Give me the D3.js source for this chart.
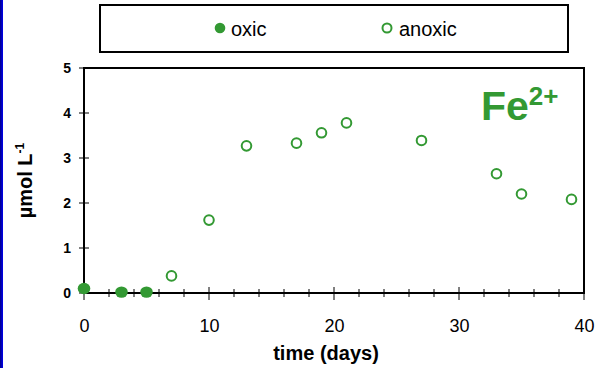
<!DOCTYPE html>
<html>
<head>
<meta charset="utf-8">
<script src="https://cdn.jsdelivr.net/npm/d3@7"></script>
<style>
  body { margin: 0; background: #fff; }
  svg { display: block; font-family: "Liberation Sans", Arial, sans-serif; }
</style>
</head>
<body>
<svg id="chart"></svg>
<script>

// data
var oxicDays = [0, 3, 5];
var oxicFe = [0.1, 0.02, 0.02];

var anoxicDays = [7, 10, 13, 17, 19, 21, 27, 33, 35, 39];
var anoxicFe = [0.38, 1.62, 3.27, 3.33, 3.56, 3.78, 3.39, 2.65, 2.2, 2.08];

var xTickLabels = [0, 10, 20, 30, 40];
var yTickLabels = [0, 1, 2, 3, 4, 5];
var seriesNames = ["oxic", "anoxic"];

var green = "#339933";

var width = 597,
    height = 368,
    margin = { top: 68, right: 13, bottom: 75, left: 84 };

var svg = d3.select("#chart")
        .attr("width", width)
        .attr("height", height);

// blue strip on the left edge
var grad = svg.append("defs")
        .append("linearGradient")
        .attr("id", "strip")
        .attr("x1", "0%").attr("x2", "100%");
grad.append("stop").attr("offset", "0%").attr("stop-color", "#000088");
grad.append("stop").attr("offset", "100%").attr("stop-color", "#0000ee");

svg.append("rect")
    .attr("x", 0)
    .attr("y", 0)
    .attr("width", 3)
    .attr("height", height)
    .style("fill", "url(#strip)");

var x = d3.scaleLinear()
        .domain([0, 40])
        .range([margin.left, width - margin.right]);

var y = d3.scaleLinear()
        .domain([0, 5])
        .range([height - margin.bottom, margin.top]);

// plot frame
svg.append("rect")
    .attr("x", x(0))
    .attr("y", y(5))
    .attr("width", x(40) - x(0))
    .attr("height", y(0) - y(5))
    .style("fill", "none")
    .style("stroke", "#000")
    .style("stroke-width", 2);

// x axis: labels via d3 axis, crossing ticks drawn by hand
var xAxis = d3.axisBottom(x)
        .tickValues(xTickLabels)
        .tickSize(0)
        .tickPadding(26)
        .tickFormat(d3.format("d"));

var gx = svg.append("g")
    .attr("transform", "translate(0," + y(0) + ")")
    .call(xAxis);
gx.select(".domain").remove();
gx.selectAll("text")
    .style("font-size", "18px")
    .style("fill", "#000");

svg.append("g")
    .selectAll("line")
    .data(d3.range(0, 41, 2))
    .join("line")
    .attr("x1", function (d) { return x(d); })
    .attr("x2", function (d) { return x(d); })
    .attr("y1", function (d) { return y(0) - (d % 10 === 0 ? 6 : 4); })
    .attr("y2", function (d) { return y(0) + (d % 10 === 0 ? 7 : 4); })
    .style("stroke", "#000")
    .style("stroke-width", 1);

// y axis
var yAxis = d3.axisLeft(y)
        .tickValues(yTickLabels)
        .tickSize(0)
        .tickPadding(13)
        .tickFormat(d3.format("d"));

var gy = svg.append("g")
    .attr("transform", "translate(" + x(0) + ",0)")
    .call(yAxis);
gy.select(".domain").remove();
gy.selectAll("text")
    .style("font-size", "14px")
    .style("font-weight", "bold")
    .style("fill", "#000");

svg.append("g")
    .selectAll("line")
    .data(yTickLabels)
    .join("line")
    .attr("x1", x(0) - 5)
    .attr("x2", x(0) + 5)
    .attr("y1", function (d) { return y(d); })
    .attr("y2", function (d) { return y(d); })
    .style("stroke", "#000")
    .style("stroke-width", 1);

// redraw the two axis lines on top of ticks
svg.append("line")
    .attr("x1", x(0)).attr("x2", x(40))
    .attr("y1", y(0)).attr("y2", y(0))
    .style("stroke", "#000").style("stroke-width", 2);
svg.append("line")
    .attr("x1", x(0)).attr("x2", x(0))
    .attr("y1", y(0)).attr("y2", y(5))
    .style("stroke", "#000").style("stroke-width", 2);

// axis titles
svg.append("text")
    .attr("x", 326)
    .attr("y", 360)
    .attr("text-anchor", "middle")
    .style("font-size", "20px")
    .style("font-weight", "bold")
    .text("time (days)");

var yTitle = svg.append("text")
    .attr("transform", "translate(32," + ((y(0) + y(5)) / 2) + ") rotate(-90)")
    .attr("text-anchor", "middle")
    .style("font-size", "20px")
    .style("font-weight", "bold");
yTitle.append("tspan").text("µmol L");
yTitle.append("tspan")
    .attr("dy", -8)
    .style("font-size", "12px")
    .text("-1");

// data points
svg.append("g")
    .selectAll("circle")
    .data(d3.zip(anoxicDays, anoxicFe))
    .join("circle")
    .attr("cx", function (d) { return x(d[0]); })
    .attr("cy", function (d) { return y(d[1]); })
    .attr("r", 4.8)
    .style("fill", "#fff")
    .style("stroke", green)
    .style("stroke-width", 2);

svg.append("g")
    .selectAll("ellipse")
    .data(d3.zip(oxicDays, oxicFe))
    .join("ellipse")
    .attr("cx", function (d) { return x(d[0]); })
    .attr("cy", function (d) { return y(d[1]); })
    .attr("rx", 6.3)
    .attr("ry", 5.7)
    .style("fill", green);

// Fe2+ label
var fe = svg.append("text")
    .attr("x", 481)
    .attr("y", 120)
    .style("font-size", "41px")
    .style("font-weight", "bold")
    .style("fill", green);
fe.append("tspan").text("Fe");
fe.append("tspan")
    .attr("dy", -15)
    .style("font-size", "26px")
    .text("2+");

// legend
svg.append("rect")
    .attr("x", 100)
    .attr("y", 5)
    .attr("width", 468)
    .attr("height", 47)
    .style("fill", "#fff")
    .style("stroke", "#000")
    .style("stroke-width", 2);

var legendX = [220, 387];

var legend = svg.append("g")
    .selectAll("g")
    .data(seriesNames)
    .join("g")
    .attr("transform", function (d, i) { return "translate(" + legendX[i] + ",28)"; });

legend.append("circle")
    .attr("r", function (d, i) { return i === 0 ? 5.3 : 4.5; })
    .style("fill", function (d, i) { return i === 0 ? green : "#fff"; })
    .style("stroke", green)
    .style("stroke-width", function (d, i) { return i === 0 ? 0 : 2; });

legend.append("text")
    .attr("x", function (d, i) { return i === 0 ? 11 : 12; })
    .attr("y", 7.5)
    .style("font-size", "20px")
    .style("fill", "#000")
    .text(function (d) { return d; });

</script>
</body>
</html>
